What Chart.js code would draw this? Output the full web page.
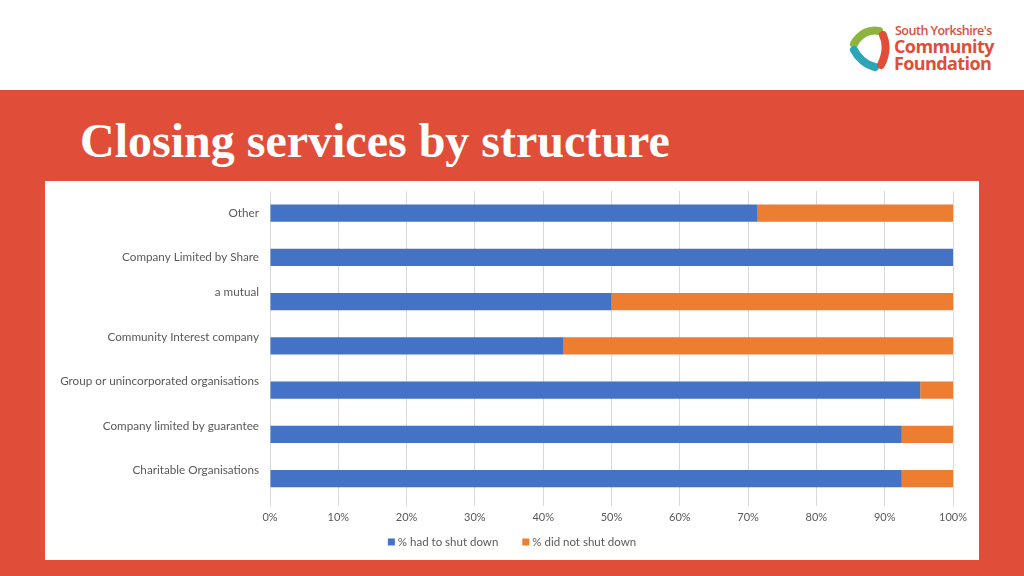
<!DOCTYPE html>
<html>
<head>
<meta charset="utf-8">
<script src="https://cdn.jsdelivr.net/npm/chart.js@4.4.1/dist/chart.umd.min.js"></script>
<style>
  html, body { margin: 0; padding: 0; }
  body { width: 1024px; height: 576px; position: relative; overflow: hidden; background: #ffffff; font-family: Lato, sans-serif; }
  .band { position: absolute; left: 0; top: 90px; width: 1024px; height: 486px; background: #E04E39; }
  .title { position: absolute; left: 80px; top: 110px; color: #ffffff; font-family: "Liberation Serif", serif; font-weight: bold; font-size: 48px; line-height: 62px; white-space: nowrap; }
  .panel { position: absolute; left: 45px; top: 181px; width: 934px; height: 379px; background: #ffffff; }
  .logo { position: absolute; left: 848px; top: 22px; width: 160px; height: 52px; }
  .logo svg { position: absolute; left: 0; top: 2px; }
  .logo .t1 { position: absolute; left: 47px; top: 0px; font-family: "Open Sans", sans-serif; font-weight: 600; font-size: 12.5px; color: #E04E39; letter-spacing: -0.5px; white-space: nowrap; }
  .logo .t2 { position: absolute; left: 46px; top: 16px; font-family: "Open Sans", sans-serif; font-weight: 700; font-size: 18px; line-height: 17px; color: #E04E39; letter-spacing: -0.6px; white-space: nowrap; }
</style>
</head>
<body>
<div class="band"></div>
<div class="title">Closing services by structure</div>
<div class="logo">
  <svg width="44" height="48" viewBox="0 0 44 48">
    <path d="M31 7 C22 5 12 9 6 20" stroke="#8DB43E" stroke-width="8" fill="none" stroke-linecap="round"/>
    <path d="M6 26 C10 34 18 41 27 43" stroke="#2AA6B7" stroke-width="8" fill="none" stroke-linecap="round"/>
    <path d="M35 11 C39 20 38 31 33 41" stroke="#E04E39" stroke-width="8" fill="none" stroke-linecap="round"/>
  </svg>
  <div class="t1">South Yorkshire's</div>
  <div class="t2">Community<br>Foundation</div>
</div>
<div class="panel"><canvas id="grafico" width="934" height="379"></canvas></div>
<script>
// categorias (de cima para baixo)
let categorias = [
    "Other",
    "Company Limited by Share",
    "a mutual",
    "Community Interest company",
    "Group or unincorporated organisations",
    "Company limited by guarantee",
    "Charitable Organisations"
];
let fechou = [71.4, 100, 50, 42.9, 95.2, 92.5, 92.5];
let naoFechou = [28.6, 0, 50, 57.1, 4.8, 7.5, 7.5];
let ticksX = [0, 10, 20, 30, 40, 50, 60, 70, 80, 90, 100];

let corTexto = '#595959';

// desenha os nomes das categorias (como no excel, alguns ficam acima da barra)
// e a legenda centralizada no painel
let deslocLabel = [0, 0, -9, -9, -9, -8, -8];
let labelsPlugin = {
    id: 'labelsY',
    afterDraw: function(chart) {
        let ctx = chart.ctx;
        let y = chart.scales.y;
        ctx.save();
        ctx.font = '11.7px Lato, sans-serif';
        ctx.fillStyle = corTexto;
        ctx.textAlign = 'right';
        ctx.textBaseline = 'middle';
        categorias.forEach(function(nome, i) {
            ctx.fillText(nome, chart.chartArea.left - 11, y.getPixelForValue(i) + deslocLabel[i]);
        });

        // legenda
        ctx.font = '11.5px Lato, sans-serif';
        ctx.textAlign = 'left';
        let ds = chart.data.datasets;
        let larguras = ds.map(function(d) { return 10 + ctx.measureText(d.label).width; });
        let total = larguras.reduce(function(a, b) { return a + b; }, 0) + 24 * (ds.length - 1);
        let x = chart.width / 2 - total / 2;
        let ly = 361;
        ds.forEach(function(d, i) {
            ctx.fillStyle = d.backgroundColor;
            ctx.fillRect(x, ly - 3.5, 7, 7);
            ctx.fillStyle = corTexto;
            ctx.fillText(d.label, x + 10, ly);
            x += larguras[i] + 24;
        });
        ctx.restore();
    }
};

let dados = {
    labels: categorias,
    datasets: [{
        label: '% had to shut down',
        data: fechou,
        backgroundColor: '#4472C4',
        barPercentage: 0.39,
        categoryPercentage: 1
    }, {
        label: '% did not shut down',
        data: naoFechou,
        backgroundColor: '#ED7D31',
        barPercentage: 0.39,
        categoryPercentage: 1
    }]
};

let options = {
    indexAxis: 'y',
    responsive: false,
    animation: false,
    layout: { padding: { left: 225, right: 26, top: 10, bottom: 31 } },
    scales: {
        x: {
            stacked: true,
            min: 0,
            max: 100,
            afterBuildTicks: function(axis) {
                axis.ticks = ticksX.map(function(v) { return { value: v }; });
            },
            grid: { color: '#D9D9D9', tickLength: 5 },
            border: { display: false },
            ticks: {
                padding: 5,
                color: corTexto,
                font: { family: 'Lato', size: 11 },
                callback: function(v) { return v + '%'; }
            }
        },
        y: {
            stacked: true,
            display: false
        }
    },
    plugins: {
        legend: { display: false },
        tooltip: { enabled: false }
    }
};

let ctx = document.getElementById('grafico').getContext('2d');
var graficoChart = new Chart(ctx, {
    type: 'bar',
    data: dados,
    options: options,
    plugins: [labelsPlugin]
});
</script>
</body>
</html>
